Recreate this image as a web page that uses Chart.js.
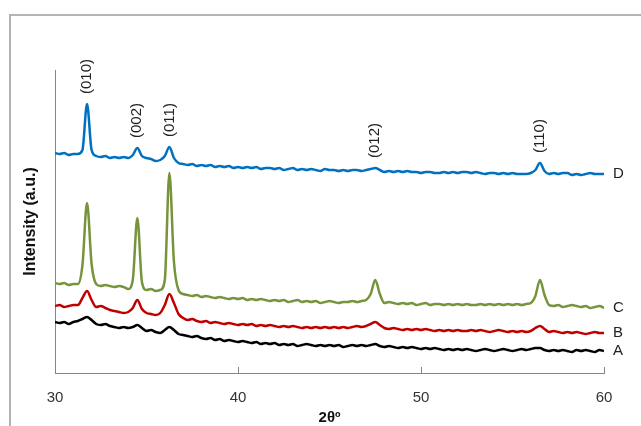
<!DOCTYPE html>
<html>
<head>
<meta charset="utf-8">
<script src="https://cdn.jsdelivr.net/npm/chart.js@4.4.0/dist/chart.umd.min.js"></script>
<style>
  html, body { margin: 0; padding: 0; background: #fff; }
  #wrap { position: relative; width: 641px; height: 426px; overflow: hidden; }
  #frame { position: absolute; left: 9px; top: 14px; width: 700px; height: 500px;
           border-left: 2px solid #b4b4b4; border-top: 2px solid #b4b4b4; }
  #xrd { position: absolute; left: 0; top: 0; }
</style>
</head>
<body>
<div id="wrap">
  <div id="frame"></div>
  <canvas id="xrd" width="641" height="426"></canvas>
</div>
<script>
// 2theta grid, 30..60 every 0.25 deg
const twoTheta = [];
for (let i = 0; i <= 120; i++) twoTheta.push(30 + i * 0.25);

// intensities (a.u.), offset patterns
const seriesD = [
  220,219,220,218,219,219,223,269,223,217,
  216,217,215,216,215,216,215,218,225,217,
  215,214,212,213,217,226,215,210,209,208,
  209,207,208,207,208,206,207,206,207,205,
  206,205,206,205,206,204,205,205,204,205,
  203,204,205,203,204,203,204,203,202,204,
  203,203,202,203,202,203,203,202,203,204,
  205,203,201,202,201,202,201,202,201,201,
  200,201,201,200,200,201,200,201,200,201,
  201,200,201,200,199,200,200,199,200,199,
  200,199,199,199,200,203,210,202,199,200,
  199,200,200,198,199,198,199,200,199,199,
  199
];
const seriesC = [
  90,89,90,88,89,89,108,170,109,89,
  87,88,87,86,87,86,84,93,155,91,
  83,84,82,83,93,200,111,83,79,78,
  77,78,76,77,76,75,76,75,74,75,
  74,75,73,74,73,74,73,72,73,72,
  73,71,72,73,71,72,71,72,70,71,
  72,71,70,71,71,72,71,72,73,79,
  93,79,70,71,70,69,70,69,70,68,
  69,70,68,69,69,68,69,68,69,68,
  69,68,68,69,68,69,68,69,68,69,
  68,69,68,69,70,77,93,78,68,67,
  68,66,67,68,67,66,67,65,66,67,
  65
];
const seriesB = [
  67,68,66,67,68,68,75,82,73,66,
  67,65,63,62,61,60,61,65,73,64,
  60,59,58,60,68,79,70,59,55,53,
  54,52,51,52,50,51,50,49,50,49,
  48,49,48,49,47,48,47,48,47,46,
  47,46,47,46,45,46,45,46,45,46,
  45,46,45,46,45,46,47,46,47,49,
  51,48,45,44,45,44,43,44,43,44,
  43,44,43,42,43,42,43,42,43,42,
  42,43,42,43,42,41,42,43,42,41,
  42,41,42,41,42,45,47,44,41,42,
  41,40,41,40,41,40,39,40,41,40,
  40
];
const seriesA = [
  51,50,51,49,51,52,54,56,53,49,
  48,49,47,46,45,46,45,46,48,45,
  42,43,41,40,43,46,43,39,38,37,
  36,37,35,34,35,33,34,32,33,32,
  31,32,31,30,31,29,30,29,30,28,
  29,28,29,27,28,29,28,27,28,27,
  28,27,28,26,27,28,27,28,27,28,
  29,27,26,27,26,25,26,25,26,25,
  24,25,24,25,24,23,24,23,24,23,
  24,23,22,23,24,23,22,23,24,23,
  22,23,24,23,24,25,25,23,22,23,
  22,23,22,21,23,22,23,22,21,23,
  22
];

const seriesNames = ["D", "C", "B", "A"];
const seriesColors = ["#0070C0", "#77933C", "#C00000", "#000000"];
const seriesData = [seriesD, seriesC, seriesB, seriesA];

const peakLabels = ["(010)", "(002)", "(011)", "(012)", "(110)"];
const peakPos = [31.75, 34.5, 36.25, 47.5, 56.5];

const xTicks = [30, 40, 50, 60];

function pts(arr) {
  return arr.map((v, i) => ({ x: twoTheta[i], y: v }));
}

const annotate = {
  id: "annotate",
  afterDraw(chart) {
    const ctx = chart.ctx;
    const xs = chart.scales.x, ys = chart.scales.y;
    ctx.save();
    // inward tick marks
    ctx.strokeStyle = "#868686";
    ctx.lineWidth = 1;
    xTicks.slice(1).forEach((t) => {
      const px = Math.round(xs.getPixelForValue(t)) + 0.5;
      ctx.beginPath();
      ctx.moveTo(px, ys.bottom);
      ctx.lineTo(px, ys.bottom - 6);
      ctx.stroke();
    });
    // series names at the right end
    ctx.fillStyle = "#222";
    ctx.font = "15px 'Liberation Sans', Arial, sans-serif";
    ctx.textBaseline = "middle";
    ctx.textAlign = "left";
    seriesData.forEach((arr, k) => {
      const py = ys.getPixelForValue(arr[arr.length - 1]);
      ctx.fillText(seriesNames[k], xs.right + 9, py);
    });
    // peak indices above the D pattern
    peakLabels.forEach((lab, k) => {
      const idx = twoTheta.indexOf(peakPos[k]);
      const px = xs.getPixelForValue(peakPos[k]);
      const py = ys.getPixelForValue(seriesD[idx]) - 10;
      ctx.save();
      ctx.translate(px, py);
      ctx.rotate(-Math.PI / 2);
      ctx.textAlign = "left";
      ctx.textBaseline = "middle";
      ctx.fillText(lab, 0, 0);
      ctx.restore();
    });
    ctx.restore();
  },
};

new Chart(document.getElementById("xrd"), {
  type: "line",
  data: {
    datasets: seriesData.map((arr, k) => ({
      label: seriesNames[k],
      data: pts(arr),
      borderColor: seriesColors[k],
      backgroundColor: seriesColors[k],
      borderWidth: 2.5,
      pointRadius: 0,
      cubicInterpolationMode: "monotone",
      fill: false,
    })),
  },
  options: {
    responsive: false,
    animation: false,
    devicePixelRatio: 1,
    layout: { padding: { left: 0, top: 70, right: 37, bottom: 0 } },
    plugins: { legend: { display: false }, tooltip: { enabled: false } },
    scales: {
      x: {
        type: "linear",
        min: 30,
        max: 60,
        afterBuildTicks(s) { s.ticks = xTicks.map((v) => ({ value: v })); },
        afterFit(s) { s.height = 53; },
        ticks: { color: "#333", font: { size: 15, family: "'Liberation Sans', Arial, sans-serif" }, padding: 16 },
        grid: { drawOnChartArea: false, drawTicks: false },
        border: { color: "#868686", width: 1 },
        title: {
          display: true,
          text: "2θº",
          color: "#111",
          font: { size: 15, weight: "bold", family: "'Liberation Sans', Arial, sans-serif" },
          padding: { top: 0, bottom: -1 },
        },
      },
      y: {
        min: 0,
        max: 303,
        afterFit(s) { s.width = 55; },
        ticks: { display: false },
        grid: { drawOnChartArea: false, drawTicks: false },
        border: { color: "#868686", width: 1 },
        title: {
          display: true,
          text: "Intensity (a.u.)",
          color: "#111",
          font: { size: 16, weight: "bold", family: "'Liberation Sans', Arial, sans-serif" },
          padding: { top: 21, bottom: 0 },
        },
      },
    },
  },
  plugins: [annotate],
});
</script>
</body>
</html>
